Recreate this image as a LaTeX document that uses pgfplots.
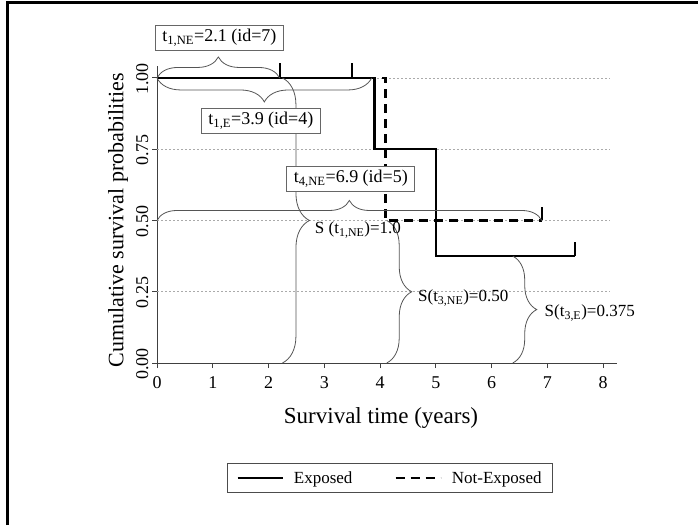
\documentclass[border=0pt]{standalone}
\usepackage{fontspec}
\setmainfont{Liberation Serif}
\usepackage{pgfplots}
\pgfplotsset{compat=1.18}
\usetikzlibrary{decorations.pathreplacing}
\definecolor{bracegray}{HTML}{555555}
\definecolor{gridgray}{HTML}{AAAAAA}
\begin{document}
\begin{tikzpicture}
\path[use as bounding box] (0pt,0pt) rectangle (698pt,525pt);
\draw[line width=3pt, line join=miter] (7pt,0pt) -- (7pt,522pt) -- (698pt,522pt);
\begin{axis}[
  at={(157pt,162pt)}, anchor=south west,
  scale only axis, width=460pt, height=297pt,
  xmin=0, xmax=8.25, ymin=0, ymax=1.042,
  axis lines=left, axis line style={-, black!75, line width=1pt},
  tick align=outside, major tick length=5pt, tick style={black!75, line width=1pt},
  xtick={0,1,...,8}, ytick={0,0.25,0.5,0.75,1},
  tick label style={font=\fontsize{18}{18}\selectfont},
  /pgf/number format/assume math mode=true,
  xticklabel style={yshift=-5pt},
  yticklabel style={rotate=90, anchor=south, xshift=-1pt, /pgf/number format/.cd, fixed, fixed zerofill, precision=2},
  clip=false,
  legend columns=2,
  legend image code/.code={\draw[#1] (0pt,0pt) -- (45pt,0pt);},
  legend style={at={(0.5065,-0.3872)}, anchor=center, draw=black!70, line width=0.8pt,
    font=\fontsize{17}{17}\selectfont, inner xsep=9pt, inner ysep=6pt,
    /tikz/every odd column/.append style={column sep=8pt},
    /tikz/every even column/.append style={column sep=40pt}},
]
% grid lines
\draw[gridgray, dash pattern=on 2pt off 2pt, line width=0.8pt] (axis cs:0,0.25) -- (axis cs:8.12,0.25);
\draw[gridgray, dash pattern=on 2pt off 2pt, line width=0.8pt] (axis cs:0,0.5) -- (axis cs:8.12,0.5);
\draw[gridgray, dash pattern=on 2pt off 2pt, line width=0.8pt] (axis cs:0,0.75) -- (axis cs:8.12,0.75);
\draw[gridgray, dash pattern=on 2pt off 2pt, line width=0.8pt] (axis cs:0,1) -- (axis cs:8.12,1);
% survival curves
\addplot[black, line width=2.5pt, line join=miter] coordinates {(0,1)(3.9,1)(3.9,0.75)(5,0.75)(5,0.375)(7.5,0.375)};
\addlegendentry{Exposed}
\addplot[black, line width=2.5pt, dash pattern=on 9pt off 6pt] coordinates {(0,1)(4.1,1)(4.1,0.5)(6.9,0.5)};
\addlegendentry{Not-Exposed\hspace{26pt}}
% censoring marks
\addplot[forget plot, black, line width=1.8pt] coordinates {(2.2,1)(2.2,1.053)};
\addplot[forget plot, black, line width=1.8pt] coordinates {(3.5,1)(3.5,1.053)};
\addplot[forget plot, black, line width=1.8pt] coordinates {(6.9,0.5)(6.9,0.546)};
\addplot[forget plot, black, line width=1.8pt] coordinates {(7.5,0.375)(7.5,0.424)};
% braces
\draw[bracegray, line width=0.8pt, decorate, decoration={brace, amplitude=21pt}] (axis cs:0,1) -- (axis cs:2.2,1);
\draw[bracegray, line width=0.8pt, decorate, decoration={brace, amplitude=24pt}] (axis cs:3.85,1) -- (axis cs:0,1);
\draw[bracegray, line width=0.8pt, decorate, decoration={brace, amplitude=20pt}] (axis cs:0,0.5) -- (axis cs:6.9,0.5);
\draw[bracegray, line width=0.8pt, decorate, decoration={brace, amplitude=27pt}] (axis cs:2.25,1) -- (axis cs:2.25,0);
\draw[bracegray, line width=0.8pt, decorate, decoration={brace, amplitude=25pt}] (axis cs:4.12,0.5) -- (axis cs:4.12,0);
\draw[bracegray, line width=0.8pt, decorate, decoration={brace, amplitude=24pt}] (axis cs:6.38,0.375) -- (axis cs:6.38,0);
% labels
\node[anchor=west, font=\fontsize{17}{17}\selectfont, inner sep=0pt] at (axis cs:2.83,0.467) {S (t\textsubscript{1,NE})=1.0};
\node[anchor=west, font=\fontsize{17}{17}\selectfont, inner sep=0pt] at (axis cs:4.68,0.228) {S(t\textsubscript{3,NE})=0.50};
\node[anchor=west, font=\fontsize{17}{17}\selectfont, inner sep=0pt] at (axis cs:6.95,0.175) {S(t\textsubscript{3,E})=0.375};
% boxes
\node[draw=black!60, fill=white, line width=0.8pt, inner xsep=7pt, inner ysep=4pt, font=\fontsize{18}{18}\selectfont] at (axis cs:1.12,1.142) {t\textsubscript{1,NE}=2.1 (id=7)};
\node[draw=black!60, fill=white, line width=0.8pt, inner xsep=7pt, inner ysep=4pt, font=\fontsize{18}{18}\selectfont] at (axis cs:1.864,0.849) {t\textsubscript{1,E}=3.9 (id=4)};
\node[draw=black!60, fill=white, line width=0.8pt, inner xsep=7pt, inner ysep=4pt, font=\fontsize{18}{18}\selectfont] at (axis cs:3.477,0.6456) {t\textsubscript{4,NE}=6.9 (id=5)};
\end{axis}
\node[font=\fontsize{23}{23}\selectfont] at (381pt,107pt) {Survival time (years)};
\node[font=\fontsize{22}{22}\selectfont, rotate=90] at (118pt,305pt) {Cumulative survival probabilities};
\end{tikzpicture}
\end{document}
